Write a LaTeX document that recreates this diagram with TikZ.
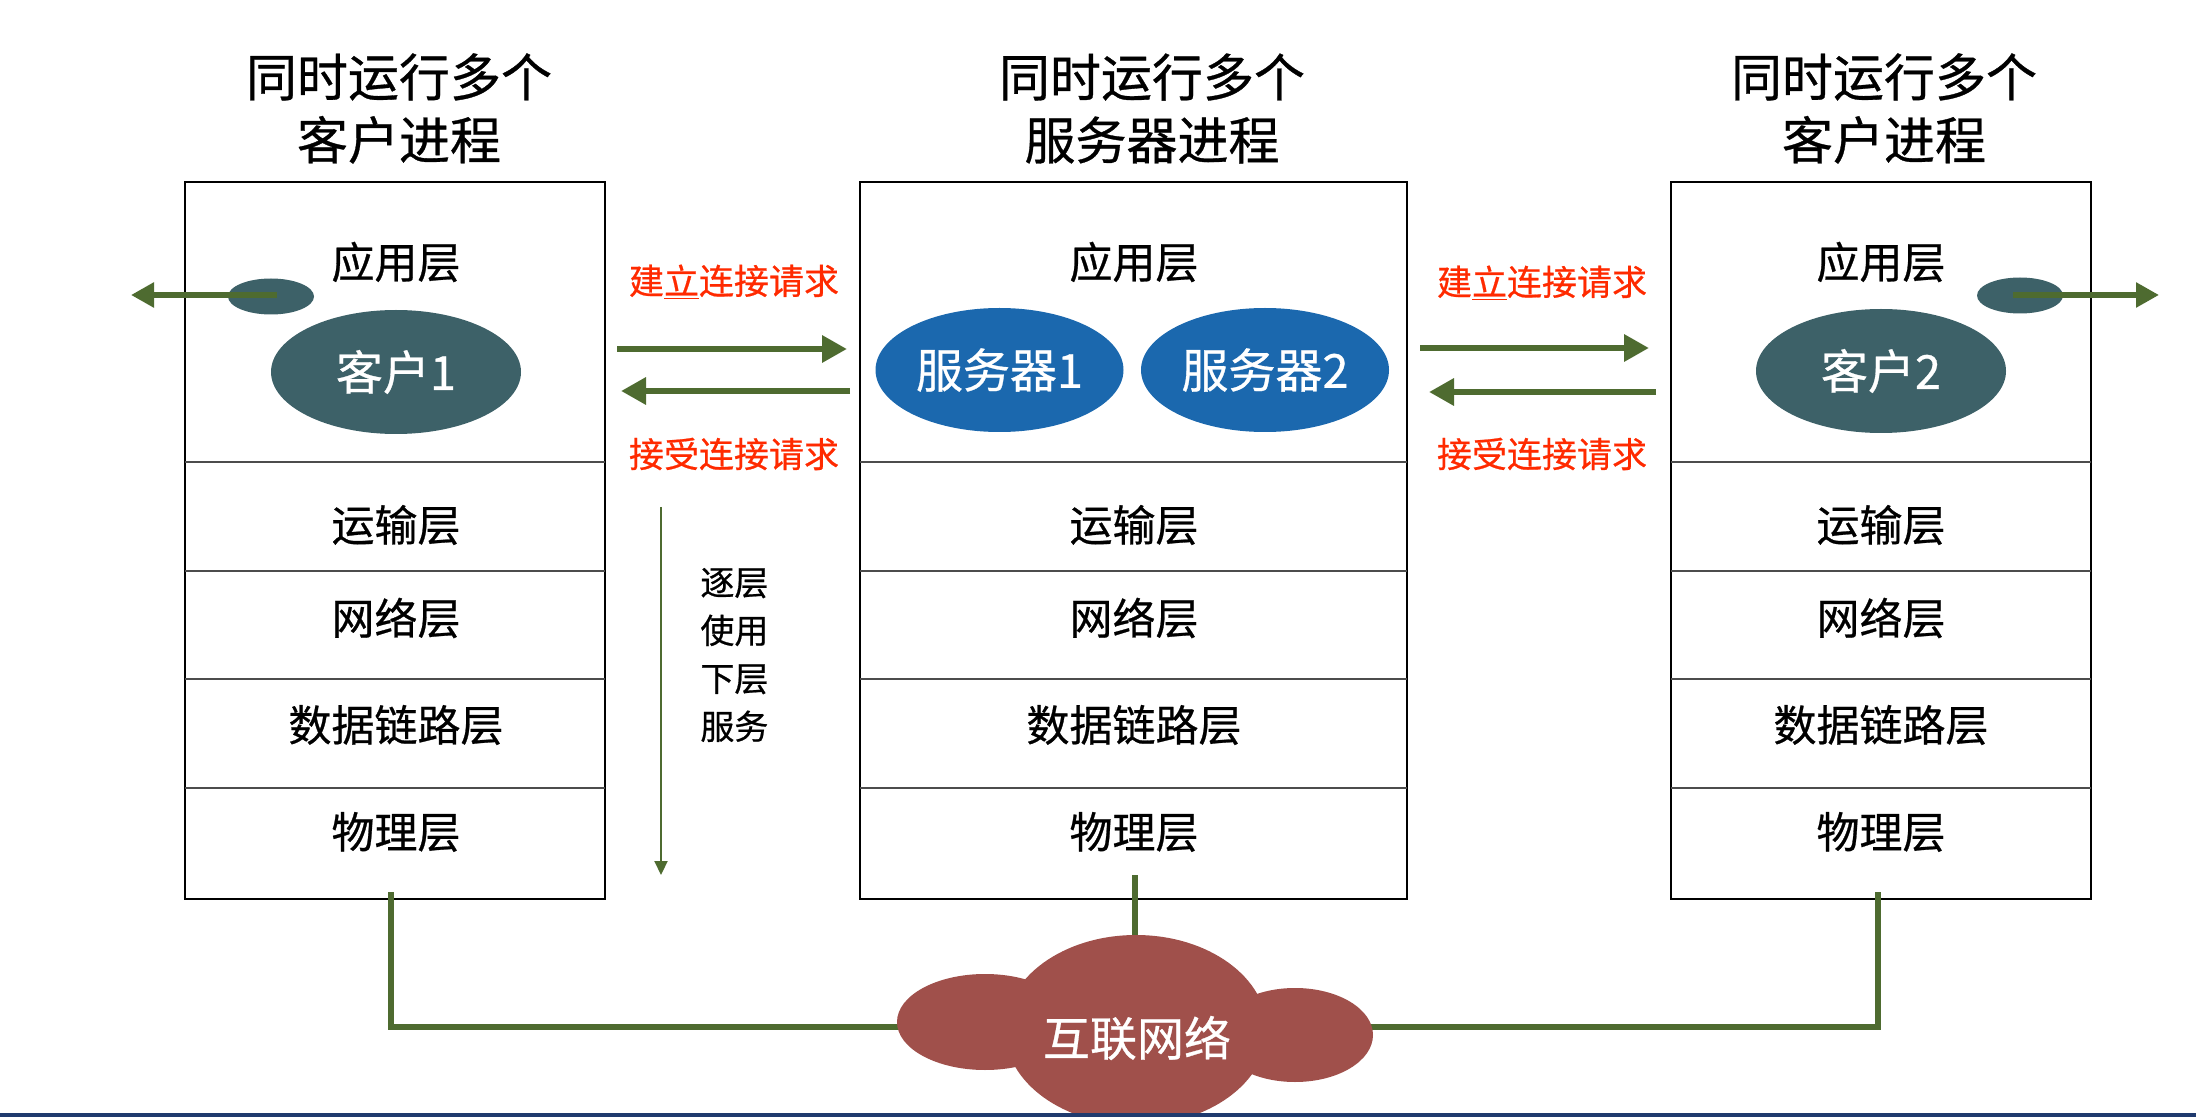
\documentclass[tikz,border=0pt]{standalone}
\usepackage{fontspec}
\setmainfont{Noto Sans CJK SC}[UprightFeatures={FakeBold=0.6}]
\usetikzlibrary{arrows.meta,shapes.geometric}
\definecolor{grn}{HTML}{4E6B30}
\definecolor{slate}{HTML}{3D6168}
\definecolor{svblue}{HTML}{1B68AE}
\definecolor{cloudred}{HTML}{A0504B}
\definecolor{reqred}{HTML}{FF2A00}
\definecolor{navy}{HTML}{1F3A6E}
\begin{document}
\begin{tikzpicture}[x=0.5pt,y=-0.5pt,
  box/.style={draw=black,line width=1.1pt},
  divider/.style={draw=black!70,line width=0.7pt},
  layer/.style={font=\fontsize{21.5}{26}\selectfont, inner sep=0pt},
  title/.style={font=\fontsize{25.5}{31.5}\selectfont, align=center, inner sep=0pt},
  proc/.style={ellipse, inner sep=0pt, text=white, font=\fontsize{23.5}{28}\selectfont},
  client/.style={proc, fill=slate, minimum width=125pt, minimum height=62pt},
  server/.style={proc, fill=svblue, minimum width=124pt, minimum height=62pt},
  port/.style={ellipse, fill=slate, inner sep=0pt, minimum width=43pt, minimum height=18pt},
  req/.style={text=reqred, font=\fontsize{17.5}{21}\selectfont, inner sep=0pt},
  bigarrow/.style={draw=grn, line width=3.4pt, -{Triangle[length=12.5pt,width=13pt]}},
  portarrow/.style={draw=grn, line width=2.8pt, -{Triangle[length=11.5pt,width=12pt]}},
  downarrow/.style={draw=grn, line width=1.1pt, -{Triangle[length=7pt,width=6.5pt]}},
  link/.style={draw=grn, line width=3pt},
  lobe/.style={ellipse, fill=cloudred, inner sep=0pt},
  svc/.style={anchor=west, font=\fontsize{17}{24}\selectfont, align=left, inner sep=0pt}
]
\useasboundingbox (0,0) rectangle (2196,1117);

% titles
\node[title] (tL) at (399,108.5) {同时运行多个\\客户进程};
\node[title] (tM) at (1152,108.5) {同时运行多个\\服务器进程};
\node[title] (tR) at (1884,108.5) {同时运行多个\\客户进程};

% protocol stacks
\foreach \n/\xa/\xb/\cx in {L/185/605/396, M/860/1407/1134, R/1671/2091/1881}{
  \draw[box] (\xa,182) rectangle (\xb,899);
  \foreach \y in {462,571,679,788} \draw[divider] (\xa,\y) -- (\xb,\y);
  \node[layer] (\n-app) at (\cx,262) {应用层};
  \node[layer] (\n-tra) at (\cx,525) {运输层};
  \node[layer] (\n-net) at (\cx,618) {网络层};
  \node[layer] (\n-dl)  at (\cx,725) {数据链路层};
  \node[layer] (\n-phy) at (\cx,832) {物理层};
}

% processes
\node[client] (c1) at (396,372) {客户1};
\node[server] (s1) at (999.5,370) {服务器1};
\node[server] (s2) at (1265,370) {服务器2};
\node[client] (c2) at (1881,371) {客户2};

% ports
\node[port] (p1) at (271,296.5) {};
\node[port] (p2) at (2020,295.5) {};
\coordinate (p1out) at (131,295);
\coordinate (p2out) at (2159,295);
\draw[portarrow] ([xshift=3pt,yshift=0.75pt]p1.center) -- (p1out);
\draw[portarrow] ([xshift=-3.5pt,yshift=0.25pt]p2.center) -- (p2out);

% request arrows
\coordinate (a1s) at (617,349);  \coordinate (a1e) at (847,349);
\coordinate (a2s) at (850,391);  \coordinate (a2e) at (621,391);
\coordinate (a3s) at (1420,348); \coordinate (a3e) at (1649,348);
\coordinate (a4s) at (1656,392); \coordinate (a4e) at (1429,392);
\draw[bigarrow] (a1s) -- (a1e);
\draw[bigarrow] (a2s) -- (a2e);
\draw[bigarrow] (a3s) -- (a3e);
\draw[bigarrow] (a4s) -- (a4e);

\node[req] (q1) at (734,282) {建\underline{立}连接请求};
\node[req] (q2) at (734,454) {接受连接请求};
\node[req] (q3) at (1542,283) {建\underline{立}连接请求};
\node[req] (q4) at (1542,454) {接受连接请求};

% layered service
\coordinate (d1) at (661,507);
\coordinate (d2) at (661,875);
\draw[downarrow] (d1) -- (d2);
\node[svc] (svc) at (700,655) {逐层\\使用\\下层\\服务};

% links to the internet
\coordinate (kL) at (391,892);
\coordinate (kM) at (1135,875);
\coordinate (kR) at (1878,892);
\coordinate (netW) at (915,1027);
\coordinate (netE) at (1360,1027);
\coordinate (netN) at (1135,950);
\draw[link] (kL) |- (netW);
\draw[link] (kR) |- (netE);
\draw[link] (kM) -- (netN);

% cloud
\node[lobe, minimum width=88pt, minimum height=48pt] (cL) at (985,1022) {};
\node[lobe, minimum width=78pt, minimum height=47pt] (cR) at (1295,1035) {};
\node[lobe, minimum width=131pt, minimum height=95pt] (cM) at (1136,1030) {};
\node[proc] (net) at (1137,1038) {互联网络};

% bottom rule
\fill[navy] (0,1113) rectangle (2196,1117);
\end{tikzpicture}
\end{document}
